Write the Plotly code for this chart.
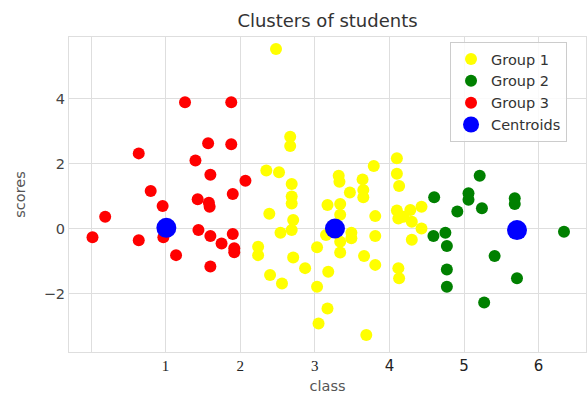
import plotly.graph_objects as go

# ---- data ----
g1_x = [2.48, 2.67, 2.67, 2.35, 2.52, 2.69, 3.79, 4.10, 4.10, 4.13, 3.32, 3.33, 3.64, 3.47, 3.65, 3.65,
        2.69, 2.69, 3.17, 3.34, 2.39, 2.71, 2.69, 2.54, 3.34, 3.81, 4.10, 4.12, 4.28, 4.30, 4.43, 4.43,
        4.30, 4.19, 3.49, 3.49, 3.15, 3.81, 3.34, 3.34, 3.03, 2.24, 2.24, 2.71, 2.87, 3.18, 3.66, 3.81,
        4.12, 4.13, 2.40, 2.56, 3.03, 3.17, 3.05, 3.69]
g1_y = [5.52, 2.82, 2.54, 1.78, 1.73, 1.37, 1.92, 2.16, 1.68, 1.31, 1.62, 1.44, 1.51, 1.11, 1.18, 0.96,
        0.98, 0.77, 0.72, 0.75, 0.45, 0.26, -0.05, -0.13, 0.42, 0.38, 0.55, 0.31, 0.57, 0.21, 0.67, 0.00,
        -0.35, 0.36, -0.13, -0.30, -0.20, -0.23, -0.41, -0.74, -0.58, -0.56, -0.82, -0.89, -1.22, -1.33, -0.85, -1.12,
        -1.22, -1.53, -1.43, -1.69, -1.79, -2.46, -2.92, -3.28]

g2_x = [5.21, 4.60, 5.06, 5.06, 4.91, 5.24, 5.68, 5.68, 4.59, 4.75, 4.77, 4.77, 4.77, 5.41, 5.71, 5.27, 6.34]
g2_y = [1.62, 0.96, 1.08, 0.88, 0.52, 0.62, 0.93, 0.75, -0.23, -0.13, -0.54, -1.26, -1.79, -0.85, -1.53, -2.28, -0.10]

g3_x = [0.02, 0.19, 0.64, 0.64, 0.80, 0.96, 0.97, 1.14, 1.26, 1.40, 1.43, 1.44, 1.57, 1.60, 1.58, 1.59,
        1.60, 1.60, 1.75, 1.88, 1.88, 1.90, 1.90, 1.92, 1.92, 2.07]
g3_y = [-0.27, 0.36, 2.31, -0.36, 1.15, 0.69, -0.27, -0.82, 3.88, 2.09, 0.90, -0.05, 2.62, 1.65, 0.79, 0.67,
        -0.23, -1.17, -0.46, 3.88, 2.59, 1.06, -0.17, -0.61, -0.73, 1.47]

cent_x = [1.01, 3.27, 5.71]
cent_y = [0.02, 0.00, -0.05]

x_tickvals = [0, 1, 2, 3, 4, 5, 6]
x_ticklabels = ["", "1", "2", "3", "4", "5", "6"]
y_tickvals = [-2, 0, 2, 4]

serif = "Liberation Serif"
x_ticktext = [t if t in ("", "4", "5", "6") else f"<span style='font-family:{serif}'>{t}</span>"
              for t in x_ticklabels]

fig = go.Figure()
fig.add_trace(go.Scatter(x=g1_x, y=g1_y, mode="markers", name="Group 1",
                         marker=dict(color="#ffff00", size=12, line=dict(width=0))))
fig.add_trace(go.Scatter(x=g2_x, y=g2_y, mode="markers", name="Group 2",
                         marker=dict(color="#008000", size=12, line=dict(width=0))))
fig.add_trace(go.Scatter(x=g3_x, y=g3_y, mode="markers", name="Group 3",
                         marker=dict(color="#ff0000", size=12, line=dict(width=0))))
fig.add_trace(go.Scatter(x=cent_x, y=cent_y, mode="markers", name="Centroids",
                         marker=dict(color="#0000ff", size=20, line=dict(width=0))))

grid = "#dedede"
fig.update_layout(
    width=588, height=397,
    margin=dict(l=69, r=2, t=37, b=45, autoexpand=False),
    plot_bgcolor="white", paper_bgcolor="white",
    font=dict(family="DejaVu Sans", size=14, color="#444444"),
    title=dict(text="Clusters of students", x=0.5, xref="paper", xanchor="center",
               y=1 - 21 / 397, yref="container", yanchor="middle",
               font=dict(family="DejaVu Sans", size=18, color="#333333")),
    legend=dict(x=0.737, y=0.984, xanchor="left", yanchor="top",
                bgcolor="rgba(255,255,255,0.85)", bordercolor="#cccccc", borderwidth=1,
                font=dict(family="DejaVu Sans", size=14.5, color="#333333")),
    showlegend=True,
)
fig.update_xaxes(
    range=[-0.295, 6.635], tickvals=x_tickvals, ticktext=x_ticktext, automargin=False,
    showgrid=True, gridcolor=grid, gridwidth=1, zeroline=False,
    showline=True, linecolor=grid, linewidth=1.2, mirror=True,
    ticks="", tickfont=dict(size=15, color="#222222"),
    title=dict(text="class", standoff=6, font=dict(size=14.5, color="#555555")),
)
fig.update_yaxes(
    range=[-3.80, 5.89], tickvals=y_tickvals, automargin=False,
    showgrid=True, gridcolor=grid, gridwidth=1, zeroline=False,
    showline=True, linecolor=grid, linewidth=1.2, mirror=True,
    ticks="", tickfont=dict(size=14.5, color="#444444"),
    title=dict(text="scores", standoff=14, font=dict(size=14.5, color="#555555")),
)

fig.write_html("out.html", config={"displayModeBar": False},
               post_script="document.body.style.margin='0';document.body.style.overflow='hidden';")
